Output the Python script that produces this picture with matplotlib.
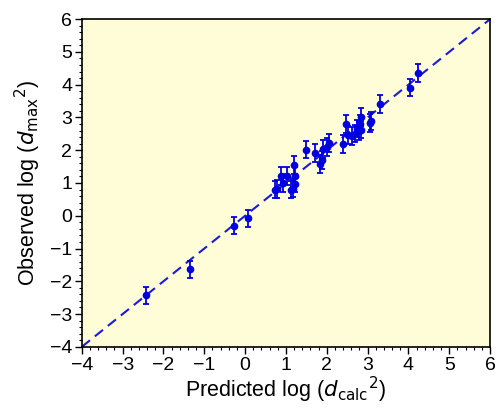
import numpy as np
import matplotlib.pyplot as plt
from matplotlib.ticker import MultipleLocator

# data
pred = [-2.43, -1.35, -0.28, 0.07, 0.73, 0.78, 0.87, 0.92, 1.02, 1.13, 1.19, 1.22,
        1.21, 1.17, 1.49, 1.70, 1.84, 1.89, 1.90, 2.00, 2.05, 2.40, 2.48, 2.53,
        2.61, 2.69, 2.73, 2.78, 2.82, 2.84, 2.83, 3.07, 3.08, 3.30, 4.03, 4.24]
obs = [-2.43, -1.64, -0.30, -0.08, 0.80, 0.82, 1.21, 1.01, 1.21, 0.80, 1.54, 1.22,
       0.98, 0.83, 2.02, 1.92, 1.57, 1.71, 2.03, 2.10, 2.21, 2.19, 2.81, 2.46,
       2.43, 2.51, 2.66, 2.59, 2.79, 3.02, 2.63, 2.84, 2.90, 3.42, 3.91, 4.36]
err = [0.27] * len(obs)

line_x = [-4, 6]
ticks = [-4, -3, -2, -1, 0, 1, 2, 3, 4, 5, 6]

plt.rcParams['font.family'] = ['Liberation Sans', 'DejaVu Sans']

fig = plt.figure(figsize=(4.96, 4.08), dpi=100)
ax = fig.add_axes([0.165, 0.150, 0.823, 0.803])
ax.set_facecolor('#fffdd8')

ax.plot(line_x, line_x, '--', color='#1a1adc', lw=1.5, dashes=(5, 3), zorder=2)
ax.errorbar(pred, obs, yerr=err, fmt='o', color='#0000e0', ms=4.5, elinewidth=1.3,
            capsize=2.5, capthick=1.3, zorder=3)

ax.set_xlim(-4, 6)
ax.set_ylim(-4, 6)
ax.set_xticks(ticks)
ax.set_yticks(ticks)
ax.set_xticklabels([str(t).replace('-', '\u2212') for t in ticks])
ax.set_yticklabels([str(t).replace('-', '\u2212') for t in ticks])
ax.xaxis.set_minor_locator(MultipleLocator(0.2))
ax.yaxis.set_minor_locator(MultipleLocator(0.2))
ax.tick_params(which='major', direction='out', length=5, width=1, labelsize=14, pad=2)
ax.tick_params(which='minor', direction='out', length=2.5, width=0.8)
for s in ax.spines.values():
    s.set_linewidth(1.2)

ax.set_xlabel(r'Predicted log ($d_{\mathrm{calc}}{}^{2}$)', fontsize=15.5, labelpad=1)
ax.set_ylabel(r'Observed log ($d_{\mathrm{max}}{}^{2}$)', fontsize=15.5, labelpad=5)

fig.savefig('out.png', dpi=100)
